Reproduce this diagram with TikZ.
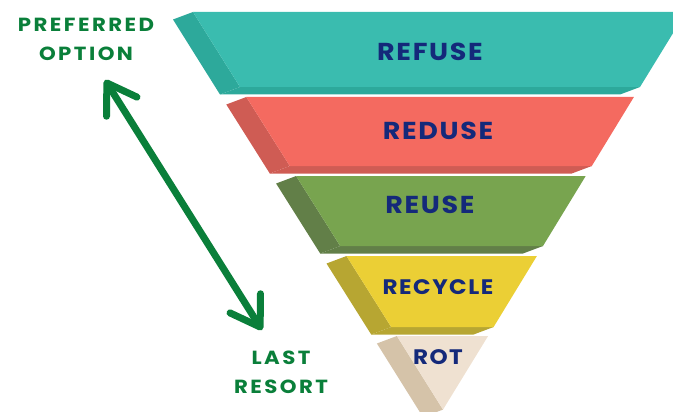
\documentclass[tikz,border=0pt]{standalone}
\usepackage{fontspec}
\usetikzlibrary{arrows.meta}
\newfontfamily\tierfont{Poppins}[LetterSpace=7, FakeStretch=1.1]
\newfontfamily\hintfont{Poppins}[LetterSpace=13, FakeStretch=1.12]

\definecolor{navy}{HTML}{14297A}
\definecolor{hintgreen}{HTML}{0A7F3A}
\definecolor{tealfront}{HTML}{3ABCAF}
\definecolor{tealdark}{HTML}{2DA99B}
\definecolor{redfront}{HTML}{F46A60}
\definecolor{reddark}{HTML}{CF5C54}
\definecolor{greenfront}{HTML}{78A44F}
\definecolor{greendark}{HTML}{627F48}
\definecolor{yellowfront}{HTML}{EBCF35}
\definecolor{yellowdark}{HTML}{B7A632}
\definecolor{beigefront}{HTML}{EFE1D1}
\definecolor{beigedark}{HTML}{D5C3A9}

\begin{document}
\begin{tikzpicture}[x=1pt, y=-1pt,
  tier/.style={font=\tierfont\bfseries\fontsize{24.5}{24}\selectfont, text=navy, inner sep=0pt},
  small tier/.style={tier, font=\tierfont\bfseries\fontsize{21}{20}\selectfont},
  hint/.style={font=\hintfont\bfseries\fontsize{19}{29}\selectfont, text=hintgreen, align=center, inner sep=0pt}]
  \useasboundingbox (0,0) rectangle (673,412);
  \clip (0,0) rectangle (673,412);

  % refuse: side, bottom strip, front
  \fill[tealdark] (193,12) -- (240,87) -- (220,94.5) -- (173,19.5) -- cycle;
  \fill[tealdark] (240,87) -- (640,87) -- (620,94.5) -- (220,94.5) -- cycle;
  \fill[tealfront] (193,12) -- (686,12) -- (640,87) -- (240,87) -- cycle;
  \node[tier] (refuse) at (430,52) {REFUSE};

  % reduse
  \fill[reddark] (246.3,97) -- (289.8,166) -- (269.8,173.5) -- (226.3,104.5) -- cycle;
  \fill[reddark] (289.8,166) -- (591.8,166) -- (571.8,173.5) -- (269.8,173.5) -- cycle;
  \fill[redfront] (246.3,97) -- (633.9,97) -- (591.8,166) -- (289.8,166) -- cycle;
  \node[tier] (reduse) at (438,131) {REDUSE};

  % reuse
  \fill[greendark] (296.1,176) -- (340.2,246) -- (320.2,253.5) -- (276.1,183.5) -- cycle;
  \fill[greendark] (340.2,246) -- (543,246) -- (523,253.5) -- (320.2,253.5) -- cycle;
  \fill[greenfront] (296.1,176) -- (585.7,176) -- (543,246) -- (340.2,246) -- cycle;
  \node[tier] (reuse) at (430,205) {REUSE};

  % recycle
  \fill[yellowdark] (346.5,256) -- (391.2,327) -- (371.2,334.5) -- (326.5,263.5) -- cycle;
  \fill[yellowdark] (391.2,327) -- (493.6,327) -- (473.6,334.5) -- (371.2,334.5) -- cycle;
  \fill[yellowfront] (346.5,256) -- (536.9,256) -- (493.6,327) -- (391.2,327) -- cycle;
  \node[small tier] (recycle) at (438,287) {RECYCLE};

  % rot, the tip of the funnel
  \fill[beigedark] (396.9,336) -- (443,409.6) -- (423,417.1) -- (376.9,343.5) -- cycle;
  \fill[beigefront] (396.9,336) -- (488.1,336) -- (443,409.6) -- cycle;
  \node[small tier] (rot) at (438,357) {ROT};

  % the scale beside the funnel
  \node[hint] (preferred) at (86,39.5) {PREFERRED\\OPTION};
  \node[hint] (lastresort) at (281,372) {LAST\\RESORT};
  \coordinate (best) at (105,80);
  \coordinate (worst) at (262,330);
  \draw[{Straight Barb[round, length=28pt, width=36pt]}-{Straight Barb[round, length=28pt, width=36pt]},
    line width=7pt, hintgreen, line cap=round] (best) -- (worst);
\end{tikzpicture}
\end{document}
